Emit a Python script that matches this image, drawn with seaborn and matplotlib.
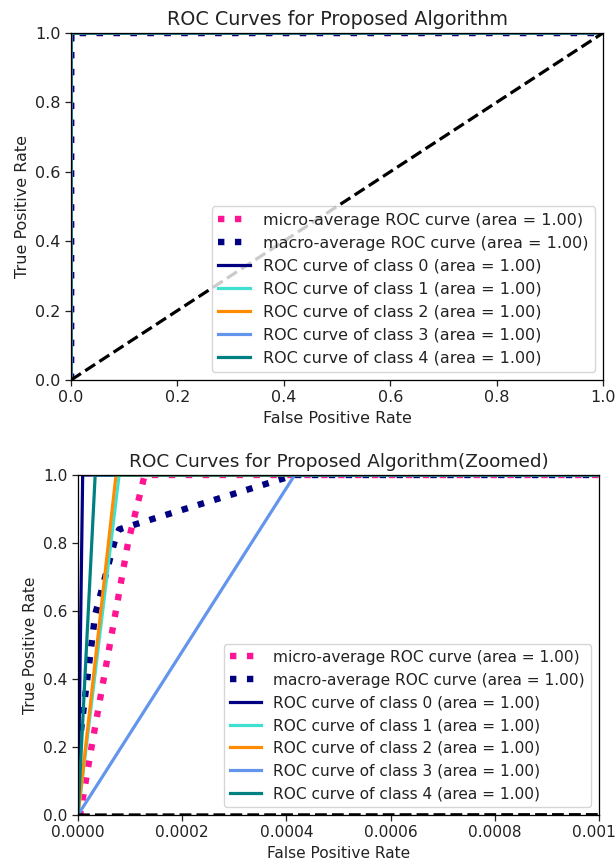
#!/usr/bin/env python3
"""ROC curves for the proposed algorithm, full view and zoomed view."""

import pandas as pd
import seaborn as sns
import matplotlib
matplotlib.use("Agg")
import matplotlib.pyplot as plt

# --- Data ---
class_ids = [0, 1, 2, 3, 4]
class_auc = [1.00, 1.00, 1.00, 1.00, 1.00]
class_fpr = [
    [0.0, 0.000009, 1.0],
    [0.0, 0.000079, 1.0],
    [0.0, 0.000073, 1.0],
    [0.0, 0.000416, 1.0],
    [0.0, 0.000033, 1.0],
]
class_tpr = [
    [0.0, 1.0, 1.0],
    [0.0, 1.0, 1.0],
    [0.0, 1.0, 1.0],
    [0.0, 1.0, 1.0],
    [0.0, 1.0, 1.0],
]

micro_fpr = [0.0, 0.000004, 0.000026, 0.000096, 0.000128, 1.0]
micro_tpr = [0.0, 0.0, 0.2, 0.8, 1.0, 1.0]
micro_auc = 1.00

macro_fpr = [0.0, 0.000002, 0.000009, 0.000033, 0.000073, 0.000079, 0.000416, 1.0]
macro_tpr = [0.0, 0.2, 0.29, 0.59, 0.82, 0.84, 1.0, 1.0]
macro_auc = 1.00

chance_fpr = [0.0, 1.0]
chance_tpr = [0.0, 1.0]

# --- Styling ---
CLASS_COLORS = ["navy", "turquoise", "darkorange", "cornflowerblue", "teal"]
SCALE = 1.15          # the reference was rendered a bit larger than 100 dpi
LW = 2 * SCALE
DOT_LW = 4 * SCALE

sns.set_style("ticks")
plt.rcParams.update({
    "font.family": ["DejaVu Sans"],
    "font.size": 10 * SCALE,
    "axes.titlesize": 12 * SCALE,
    "axes.linewidth": 0.8 * SCALE,
    "xtick.major.size": 3.5 * SCALE,
    "ytick.major.size": 3.5 * SCALE,
    "xtick.major.width": 0.8 * SCALE,
    "ytick.major.width": 0.8 * SCALE,
    "axes.edgecolor": "black",
    "axes.labelcolor": "#222222",
    "text.color": "#222222",
    "xtick.color": "#222222",
    "ytick.color": "#222222",
    "lines.solid_capstyle": "projecting",
})


def draw_roc(ax, title, xmax, fscale):
    """Draw all ROC curves on one axis."""
    curve = pd.DataFrame({"fpr": micro_fpr, "tpr": micro_tpr})
    sns.lineplot(data=curve, x="fpr", y="tpr", sort=False, estimator=None, ax=ax,
                 color="deeppink", linestyle=":", linewidth=DOT_LW,
                 label=f"micro-average ROC curve (area = {micro_auc:0.2f})")
    curve = pd.DataFrame({"fpr": macro_fpr, "tpr": macro_tpr})
    sns.lineplot(data=curve, x="fpr", y="tpr", sort=False, estimator=None, ax=ax,
                 color="navy", linestyle=":", linewidth=DOT_LW,
                 label=f"macro-average ROC curve (area = {macro_auc:0.2f})")

    for cid, fpr, tpr, auc, color in zip(class_ids, class_fpr, class_tpr, class_auc, CLASS_COLORS):
        curve = pd.DataFrame({"fpr": fpr, "tpr": tpr})
        sns.lineplot(data=curve, x="fpr", y="tpr", sort=False, estimator=None, ax=ax,
                     color=color, linewidth=LW,
                     label=f"ROC curve of class {cid} (area = {auc:0.2f})")

    ax.plot(chance_fpr, chance_tpr, "k--", lw=LW)
    ax.set_xlim(0.0, xmax)
    ax.set_ylim(0.0, 1.0)
    ax.set_xlabel("False Positive Rate", fontsize=10 * fscale)
    ax.set_ylabel("True Positive Rate", fontsize=10 * fscale)
    ax.set_title(title, fontsize=12 * fscale)
    ax.tick_params(labelsize=10 * fscale)
    ax.legend(loc="lower right", frameon=True, framealpha=0.8, edgecolor="0.8",
              fancybox=True, fontsize=10 * fscale)


fig = plt.figure(figsize=(6.16, 8.65), dpi=100)
ax_full = fig.add_axes([0.1153, 0.5607, 0.8636, 0.4012])
ax_zoom = fig.add_axes([0.1266, 0.0578, 0.8458, 0.3931])

draw_roc(ax_full, "ROC Curves for Proposed Algorithm", 1.0, 1.15)
draw_roc(ax_zoom, "ROC Curves for Proposed Algorithm(Zoomed)", 0.001, 1.11)

fig.savefig("out.png", dpi=100)
